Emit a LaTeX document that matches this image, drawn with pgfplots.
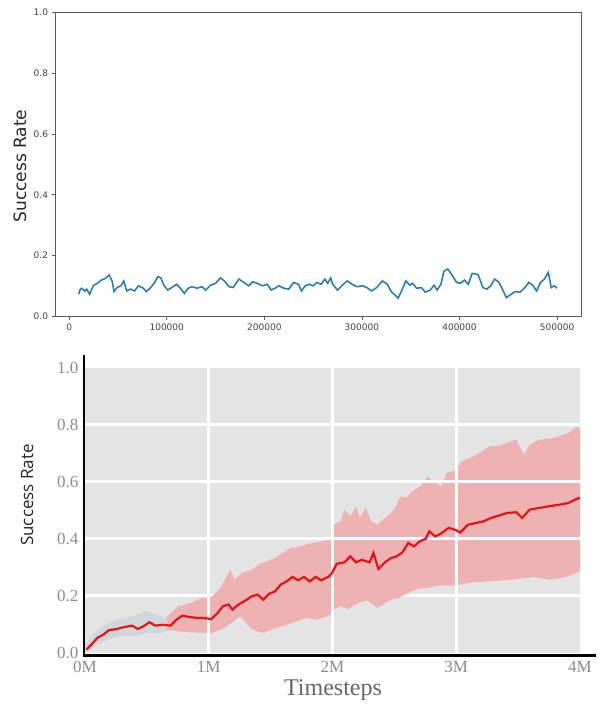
\documentclass[border=0pt]{standalone}
\usepackage{pgfplots}
\pgfplotsset{compat=1.18}
\usepackage{fontspec}
\setmainfont{DejaVu Sans}
\newfontfamily\djv{DejaVu Sans}
\newfontfamily\lser{Liberation Serif}
\newfontfamily\osans{Open Sans}
\definecolor{mplblue}{RGB}{31,119,180}
\definecolor{bggray}{RGB}{228,228,228}
\definecolor{bandred}{RGB}{238,178,178}
\definecolor{linered}{RGB}{232,18,18}
\definecolor{faint}{RGB}{206,216,218}
\begin{document}
\begin{tikzpicture}
\path[use as bounding box] (0bp,0bp) rectangle (606bp,707bp);
% ---------------- top panel ----------------
\begin{axis}[
  at={(55bp,390.5bp)}, anchor=south west, scale only axis,
  width=526bp, height=304bp,
  xmin=-14500, xmax=524500, ymin=0, ymax=1,
  xtick={0,100000,200000,300000,400000,500000},
  xticklabels={0,100000,200000,300000,400000,500000},
  ytick={0,0.2,0.4,0.6,0.8,1},
  yticklabels={0.0,0.2,0.4,0.6,0.8,1.0},
  tick align=outside, tick pos=left, major tick length=3.5bp,
  every tick/.style={black!65, line width=0.8bp},
  axis line style={black!65, line width=1bp},
  ticklabel style={font=\djv\fontsize{9bp}{11bp}\selectfont, text=black!75},
  scaled x ticks=false,
]
\addplot[mplblue, line width=1.5bp] coordinates {
(10000,0.073)(11000,0.087)(13000,0.093)(16000,0.084)(18000,0.090)(21000,0.073)(25000,0.103)(29000,0.109)(33000,0.120)(37000,0.125)(41000,0.136)(44000,0.117)(46000,0.082)(49000,0.095)(53000,0.101)(56000,0.117)(59000,0.084)(63000,0.090)(67000,0.084)(71000,0.101)(76000,0.093)(79000,0.082)(83000,0.093)(87000,0.109)(91000,0.131)(94000,0.127)(97000,0.103)(101000,0.087)(105000,0.095)(110000,0.106)(114000,0.093)(118000,0.076)(122000,0.093)(126000,0.098)(131000,0.093)(136000,0.098)(140000,0.087)(145000,0.103)(150000,0.109)(155000,0.127)(159000,0.117)(164000,0.098)(168000,0.095)(174000,0.123)(179000,0.112)(184000,0.101)(188000,0.114)(193000,0.109)(198000,0.101)(203000,0.106)(207000,0.087)(211000,0.093)(215000,0.101)(220000,0.093)(225000,0.090)(230000,0.112)(235000,0.106)(238000,0.084)(242000,0.101)(246000,0.106)(250000,0.101)(254000,0.112)(258000,0.106)(262000,0.123)(265000,0.109)(268000,0.127)(270000,0.106)(275000,0.087)(281000,0.106)(285000,0.117)(290000,0.106)(295000,0.098)(301000,0.101)(305000,0.095)(310000,0.084)(315000,0.095)(321000,0.117)(326000,0.106)(330000,0.082)(334000,0.071)(337000,0.060)(341000,0.087)(345000,0.117)(349000,0.103)(352000,0.109)(356000,0.093)(361000,0.095)(365000,0.080)(370000,0.087)(374000,0.103)(377000,0.087)(381000,0.106)(384000,0.149)(388000,0.156)(392000,0.138)(397000,0.112)(401000,0.109)(405000,0.120)(409000,0.106)(413000,0.142)(419000,0.138)(424000,0.095)(428000,0.090)(432000,0.101)(436000,0.123)(440000,0.114)(444000,0.090)(448000,0.062)(452000,0.071)(457000,0.082)(462000,0.080)(467000,0.095)(471000,0.112)(475000,0.103)(479000,0.084)(483000,0.112)(487000,0.123)(491000,0.145)(494000,0.095)(497000,0.101)(500000,0.093)
};
\end{axis}
% ---------------- bottom panel ----------------
\begin{axis}[
  at={(85bp,54bp)}, anchor=south west, scale only axis,
  width=495bp, height=285bp,
  xmin=0, xmax=4, ymin=0, ymax=1,
  axis line style={draw=none}, major tick length=0pt,
  xtick={0,1,2,3,4}, xticklabels={0M,1M,2M,3M,4M},
  ytick={0,0.2,0.4,0.6,0.8,1},
  yticklabels={0.0,0.2,0.4,0.6,0.8,1.0},
  ticklabel style={font=\lser\fontsize{17bp}{20bp}\selectfont, text=black!45},
  xticklabel style={yshift=-5bp},
  yticklabel style={xshift=-3bp},
  axis background/.style={fill=bggray},
]
\addplot[white, line width=3bp] coordinates {(0,0.2)(4,0.2)};
% faint early band
\addplot[fill=faint, draw=none] coordinates {(0,0.03)(0.1,0.08)(0.2,0.11)(0.3,0.12)(0.4,0.13)(0.5,0.15)(0.6,0.13)(0.7,0.12)(0.7,0.08)(0.6,0.07)(0.5,0.07)(0.4,0.06)(0.3,0.06)(0.2,0.05)(0.1,0.03)(0,0)};
% red band: upper edge, then lower edge reversed
\addplot[fill=bandred, draw=none] coordinates {
(0.661,0.129)(0.755,0.164)(0.849,0.175)(0.942,0.193)(1.020,0.196)(1.083,0.222)(1.129,0.257)(1.176,0.292)(1.208,0.257)(1.270,0.281)(1.348,0.292)(1.410,0.313)(1.473,0.322)(1.535,0.333)(1.597,0.351)(1.660,0.368)(1.722,0.372)(1.785,0.380)(1.847,0.386)(1.910,0.392)(1.988,0.398)(2.009,0.450)(2.066,0.462)(2.097,0.503)(2.144,0.480)(2.190,0.515)(2.222,0.474)(2.268,0.509)(2.315,0.462)(2.362,0.450)(2.409,0.468)(2.456,0.485)(2.502,0.505)(2.549,0.550)(2.596,0.544)(2.643,0.567)(2.690,0.579)(2.736,0.596)(2.767,0.620)(2.814,0.602)(2.877,0.585)(2.924,0.632)(2.970,0.637)(3.002,0.646)(3.048,0.673)(3.111,0.684)(3.189,0.702)(3.267,0.725)(3.345,0.727)(3.407,0.737)(3.485,0.749)(3.548,0.696)(3.594,0.731)(3.672,0.749)(3.750,0.751)(3.828,0.760)(3.906,0.772)(3.969,0.793)(4.000,0.789)
(4.000,0.287)(3.938,0.275)(3.844,0.263)(3.750,0.257)(3.625,0.267)(3.500,0.260)(3.376,0.255)(3.251,0.251)(3.127,0.248)(3.033,0.240)(2.939,0.236)(2.846,0.236)(2.767,0.228)(2.690,0.225)(2.612,0.211)(2.534,0.193)(2.471,0.187)(2.409,0.170)(2.362,0.158)(2.284,0.185)(2.206,0.175)(2.128,0.154)(2.066,0.164)(2.009,0.152)(1.988,0.135)(1.878,0.117)(1.785,0.123)(1.691,0.108)(1.597,0.094)(1.504,0.082)(1.441,0.070)(1.348,0.082)(1.254,0.129)(1.129,0.088)(1.020,0.070)(0.817,0.073)(0.661,0.082)
};
% grid on top
\addplot[white, line width=3bp] coordinates {(0,0.4)(4,0.4)};
\addplot[white, line width=3bp] coordinates {(0,0.6)(4,0.6)};
\addplot[white, line width=3bp] coordinates {(0,0.8)(4,0.8)};
\addplot[white, line width=3bp] coordinates {(1,0)(1,1)};
\addplot[white, line width=3bp] coordinates {(2,0)(2,1)};
\addplot[white, line width=3bp] coordinates {(3,0)(3,1)};
% mean line
\addplot[linered, line width=2.2bp] coordinates {
(0.012,0.012)(0.053,0.030)(0.100,0.053)(0.147,0.064)(0.193,0.080)(0.256,0.084)(0.318,0.091)(0.381,0.096)(0.427,0.084)(0.474,0.094)(0.521,0.108)(0.568,0.096)(0.630,0.099)(0.693,0.096)(0.739,0.117)(0.786,0.131)(0.849,0.126)(0.911,0.123)(0.973,0.122)(1.020,0.119)(1.067,0.138)(1.114,0.164)(1.161,0.170)(1.192,0.152)(1.239,0.170)(1.285,0.181)(1.348,0.199)(1.395,0.205)(1.441,0.187)(1.488,0.208)(1.535,0.216)(1.582,0.240)(1.629,0.251)(1.676,0.267)(1.722,0.255)(1.769,0.267)(1.816,0.251)(1.863,0.267)(1.910,0.255)(1.972,0.269)(1.997,0.281)(2.034,0.313)(2.097,0.318)(2.144,0.339)(2.190,0.318)(2.237,0.327)(2.300,0.318)(2.331,0.351)(2.371,0.295)(2.424,0.318)(2.471,0.333)(2.518,0.339)(2.565,0.353)(2.612,0.386)(2.658,0.374)(2.705,0.392)(2.752,0.400)(2.783,0.427)(2.830,0.409)(2.877,0.419)(2.939,0.439)(2.986,0.433)(3.033,0.423)(3.095,0.450)(3.158,0.456)(3.220,0.462)(3.282,0.474)(3.345,0.482)(3.407,0.491)(3.485,0.494)(3.532,0.474)(3.594,0.503)(3.672,0.509)(3.750,0.515)(3.828,0.520)(3.906,0.526)(3.969,0.540)(4.000,0.544)
};
\end{axis}
% black axis lines of the lower panel
\draw[black, line width=2bp] (83.5bp,352bp) -- (83.5bp,50bp);
\draw[black, line width=3bp] (82.5bp,51.5bp) -- (596bp,51.5bp);
% labels
\node[rotate=90, font=\djv\fontsize{17bp}{20bp}\selectfont, text=black!85] at (20bp,541bp) {Success Rate};
\node[rotate=90, font=\osans\fontsize{17bp}{20bp}\selectfont, text=black!85] at (27bp,212bp) {Success Rate};
\node[font=\lser\fontsize{24bp}{28bp}\selectfont, text=black!60] at (333bp,17bp) {Timesteps};
\end{tikzpicture}
\end{document}
